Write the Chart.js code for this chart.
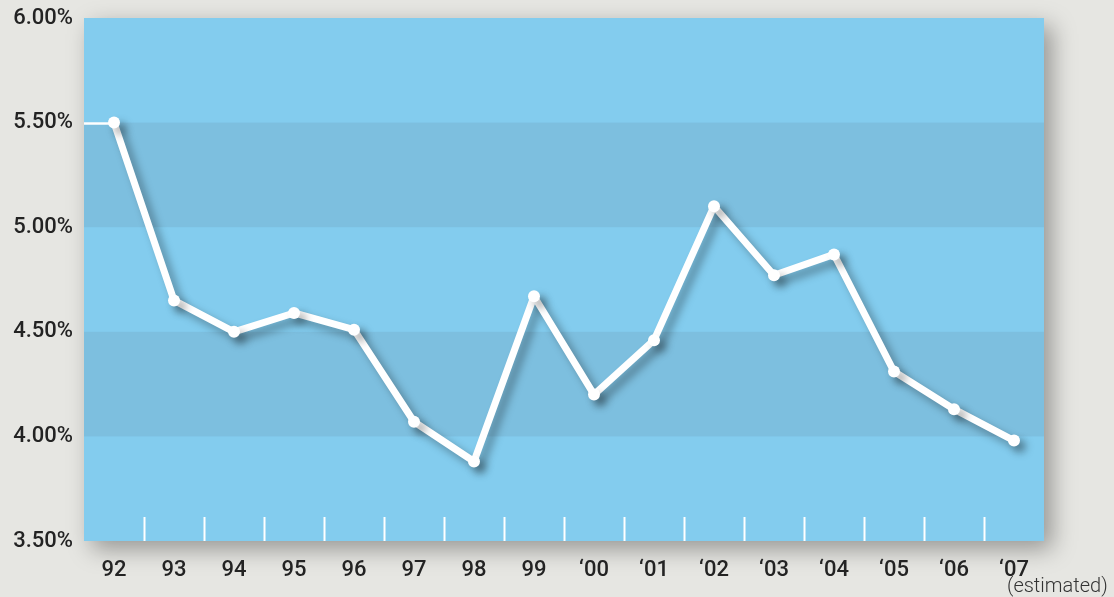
<!DOCTYPE html>
<html>
<head>
<meta charset="utf-8">
<script src="https://cdn.jsdelivr.net/npm/chart.js@4"></script>
<style>
  html, body { margin: 0; padding: 0; background: #e6e6e2; }
  #wrap { width: 1114px; height: 597px; position: relative; }
</style>
</head>
<body>
<div id="wrap"><canvas id="chart"></canvas></div>
<script>
(() => {
  const years = ['92', '93', '94', '95', '96', '97', '98', '99', '\u201800', '\u201801', '\u201802', '\u201803', '\u201804', '\u201805', '\u201806', '\u201807'];
  const rates = [5.50, 4.65, 4.50, 4.59, 4.51, 4.07, 3.88, 4.67, 4.20, 4.46, 5.10, 4.77, 4.87, 4.31, 4.13, 3.98];
  const yTicks = [3.5, 4.0, 4.5, 5.0, 5.5, 6.0];
  const darkBands = [[4.0, 4.5], [5.0, 5.5]];
  const note = '(estimated)';

  const LIGHT = '#83ccee';
  const DARK = '#7dbfdf';
  const TEXT = '#232323';

  const backdrop = {
    id: 'backdrop',
    beforeDraw(chart) {
      const { ctx, chartArea: a, scales: { y } } = chart;
      ctx.save();
      ctx.shadowColor = 'rgba(0,0,0,0.35)';
      ctx.shadowBlur = 22;
      ctx.shadowOffsetX = 8;
      ctx.shadowOffsetY = 8;
      ctx.fillStyle = LIGHT;
      ctx.fillRect(a.left, a.top, a.right - a.left, a.bottom - a.top);
      ctx.restore();
      ctx.save();
      ctx.fillStyle = DARK;
      darkBands.forEach(([lo, hi]) => {
        const y1 = y.getPixelForValue(hi), y2 = y.getPixelForValue(lo);
        ctx.fillRect(a.left, y1, a.right - a.left, y2 - y1);
      });
      ctx.restore();
    },
    beforeDatasetsDraw(chart) {
      const { ctx, chartArea: a, scales: { x, y } } = chart;
      ctx.save();
      ctx.strokeStyle = '#ffffff';
      ctx.lineWidth = 2;
      for (let i = 0; i < years.length - 1; i++) {
        const px = Math.round((x.getPixelForValue(i) + x.getPixelForValue(i + 1)) / 2) + 0.5;
        ctx.beginPath();
        ctx.moveTo(px, a.bottom - 24);
        ctx.lineTo(px, a.bottom);
        ctx.stroke();
      }
      const y0 = Math.round(y.getPixelForValue(rates[0])) + 0.5;
      ctx.lineWidth = 2.5;
      ctx.beginPath();
      ctx.moveTo(a.left, y0);
      ctx.lineTo(x.getPixelForValue(0), y0);
      ctx.stroke();
      ctx.restore();
    },
    beforeDatasetDraw(chart) {
      const ctx = chart.ctx;
      ctx.save();
      ctx.shadowColor = 'rgba(0,0,0,0.35)';
      ctx.shadowBlur = 8;
      ctx.shadowOffsetX = 6;
      ctx.shadowOffsetY = 6;
    },
    afterDatasetDraw(chart) {
      chart.ctx.restore();
    },
    afterDraw(chart) {
      const { ctx, scales: { x } } = chart;
      ctx.save();
      ctx.fillStyle = '#333';
      ctx.font = '300 20px Roboto';
      ctx.textAlign = 'left';
      ctx.textBaseline = 'alphabetic';
      ctx.fillText(note, x.getPixelForValue(years.length - 1) - 7, 592);
      ctx.restore();
    }
  };

  new Chart(document.getElementById('chart'), {
    type: 'line',
    data: {
      labels: years,
      datasets: [{
        data: rates,
        borderColor: '#ffffff',
        backgroundColor: '#ffffff',
        borderWidth: 7,
        borderJoinStyle: 'round',
        pointRadius: 6,
        pointBorderWidth: 0,
        pointBackgroundColor: '#ffffff',
        tension: 0
      }]
    },
    options: {
      responsive: true,
      maintainAspectRatio: false,
      animation: false,
      layout: { padding: { top: 18, right: 70, left: 0, bottom: 0 } },
      plugins: { legend: { display: false }, tooltip: { enabled: false } },
      scales: {
        x: {
          offset: true,
          grid: { display: false, tickLength: 0 },
          border: { display: false },
          ticks: {
            color: TEXT,
            font: { family: 'Roboto', size: 22, weight: '500' },
            padding: 16,
            maxRotation: 0,
            autoSkip: false
          },
          afterFit(s) { s.height = 56; s.paddingLeft = 0; s.paddingRight = 0; }
        },
        y: {
          min: 3.5,
          max: 6.0,
          afterBuildTicks(s) { s.ticks = yTicks.map(v => ({ value: v })); },
          grid: { display: false, tickLength: 0 },
          border: { display: false },
          ticks: {
            color: TEXT,
            font: { family: 'Roboto', size: 22, weight: '500' },
            padding: 11,
            callback: v => v.toFixed(2) + '%'
          },
          afterFit(s) { s.width = 84; s.paddingTop = 0; s.paddingBottom = 0; }
        }
      }
    },
    plugins: [backdrop]
  });
})();
</script>
</body>
</html>
